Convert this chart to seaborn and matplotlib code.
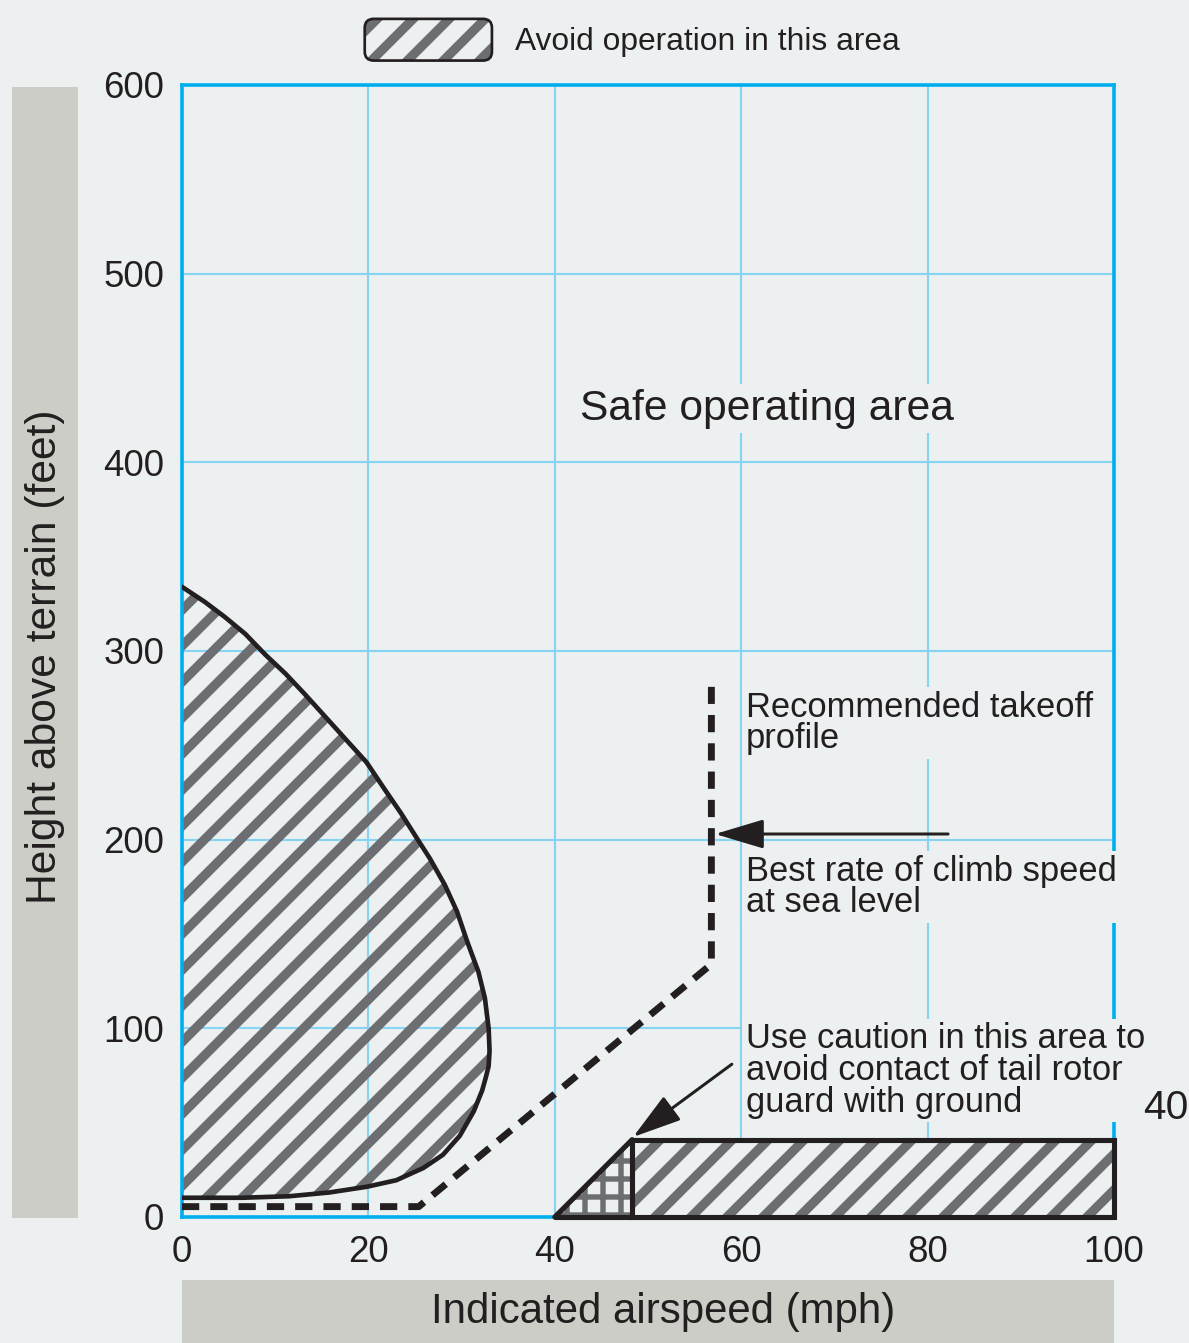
import matplotlib
matplotlib.use("Agg")
import matplotlib.pyplot as plt
from matplotlib.patches import Patch, FancyBboxPatch, Rectangle
from matplotlib.legend_handler import HandlerPatch
import seaborn as sns

# height-velocity diagram, values

# avoid area near the hover (airspeed mph, height ft), traced from top to bottom
avoid_speed = [0, 2.45, 4.6, 6.8, 8.95, 11.1, 13.2, 15.4, 17.6, 19.8, 21.7, 23.5,
               25.3, 26.6, 28.2, 29.5, 30.6, 31.8, 32.5, 32.9, 33.0, 32.9, 32.6,
               32.2, 31.3, 29.8, 28.0, 25.9, 23.0, 19.8, 15.8, 11.5, 6.4, 0]
avoid_height = [334, 326, 318, 309, 298, 288, 277, 265, 253, 241, 227, 214,
                200, 190, 176, 162, 146, 130, 116, 100, 88, 80, 74,
                67, 56, 43, 33, 26, 19.5, 16, 13, 11, 10.2, 10.2]

# recommended takeoff profile
takeoff_speed = [0, 25.4, 56.8, 56.8]
takeoff_height = [5.5, 5.5, 134, 281]

# tail rotor caution wedge and the high speed low level box
caution_speed = [40, 48.3, 48.3]
caution_height = [0, 41, 0]
box_speed = [48.3, 100, 100, 48.3]
box_height = [0, 0, 41, 41]

x_ticks = [0, 20, 40, 60, 80, 100]
y_ticks = [0, 100, 200, 300, 400, 500, 600]

# colours
BG = "#ecf0f1"
BOXGRAY = "#cdcdc8"
INK = "#231f20"
HATCH = "#6d6e71"
SPINE = "#00aeef"
GRID = "#86d3f2"

W, H, DPI = 1189, 1343, 216

sns.set_theme(style="whitegrid")
plt.rcParams["font.family"] = ["Liberation Sans", "DejaVu Sans"]
plt.rcParams["hatch.linewidth"] = 3.1
plt.rcParams["text.color"] = INK

fig = plt.figure(figsize=(W / DPI, H / DPI), dpi=DPI, facecolor=BG)
ax = fig.add_axes([182 / W, 1 - 1217 / H, 932 / W, 1132 / H])
ax.set_facecolor(BG)

# gray boxes behind the axis titles
fig.add_artist(Rectangle((12 / W, 1 - 1218 / H), 66 / W, 1131 / H,
                         transform=fig.transFigure, fc=BOXGRAY, ec="none", zorder=0))
fig.add_artist(Rectangle((182 / W, 0), 932 / W, 63 / H,
                         transform=fig.transFigure, fc=BOXGRAY, ec="none", zorder=0))

# avoid area at low speed
ax.fill(avoid_speed, avoid_height, facecolor="none", edgecolor=HATCH,
        hatch="//", lw=0, zorder=1)
sns.lineplot(x=avoid_speed, y=avoid_height, sort=False, estimator=None,
             color=INK, lw=1.55, ax=ax, zorder=3)

# caution wedge (cross hatched) and low level box (striped)
plt.rcParams["hatch.linewidth"] = 1.8
ax.fill(caution_speed, caution_height, facecolor=BG, edgecolor=HATCH,
        hatch="++", lw=0, zorder=1.5)
plt.rcParams["hatch.linewidth"] = 3.1
ax.fill(box_speed, box_height, facecolor=BG, edgecolor=HATCH,
        hatch="//", lw=0, zorder=1.5)
ax.fill(box_speed, box_height, facecolor="none", edgecolor=INK, lw=1.7,
        zorder=4, clip_on=False)
ax.plot(caution_speed[:2], caution_height[:2], color=INK, lw=1.7, zorder=4,
        clip_on=False)
ax.plot([caution_speed[0], box_speed[0]], [0, 0], color=INK, lw=1.7, zorder=4,
        clip_on=False)

# takeoff profile
sns.lineplot(x=takeoff_speed, y=takeoff_height, sort=False, estimator=None,
             color=INK, lw=2.3, linestyle=(0, (2.5, 1.6)), ax=ax, zorder=4)

ax.set_xlim(0, 100)
ax.set_ylim(0, 600)
ax.set_xticks(x_ticks)
ax.set_yticks(y_ticks)
ax.tick_params(length=0, labelsize=12.2, colors=INK)
ax.tick_params(axis="x", pad=6)
ax.tick_params(axis="y", pad=6)
ax.grid(True, color=GRID, lw=0.7)
ax.set_axisbelow(True)
for sp in ax.spines.values():
    sp.set_color(SPINE)
    sp.set_linewidth(1.2)
    sp.set_visible(True)

ax.set_xlabel("Indicated airspeed (mph)", fontsize=14, color=INK)
ax.xaxis.set_label_coords(0.516, -0.084)
ax.xaxis.label.set_va("center")
ax.set_ylabel("Height above terrain (feet)", fontsize=14.2, color=INK)
ax.yaxis.set_label_coords(-0.147, 0.495)
ax.yaxis.label.set_va("center")

box = dict(boxstyle="square,pad=0.1", fc=BG, ec="none")
ax.text(42.7, 428.5, "Safe operating area", fontsize=14.2, va="center",
        ha="left", bbox=box, zorder=6)
ax.text(60.5, 279, "Recommended takeoff\nprofile", fontsize=11.5, va="top",
        ha="left", linespacing=0.95, bbox=box, zorder=6)
ax.text(60.5, 192, "Best rate of climb speed\nat sea level", fontsize=11.5,
        va="top", ha="left", linespacing=0.95, bbox=box, zorder=6, clip_on=False)
ax.text(60.5, 103.3, "Use caution in this area to\navoid contact of tail rotor\nguard with ground",
        fontsize=11.5, va="top", ha="left", linespacing=0.95, bbox=box, zorder=6,
        clip_on=False)
ax.text(103.1, 58, "40", fontsize=13.6, va="center", ha="left", clip_on=False,
        zorder=8)

arrow = dict(arrowstyle="-|>,head_length=0.7,head_width=0.21", color=INK,
             lw=1.0, mutation_scale=20, shrinkA=0, shrinkB=0)
ax.annotate("", xy=(57.2, 203), xytext=(82.2, 203), arrowprops=arrow, zorder=7)
ax.annotate("", xy=(48.4, 42.4), xytext=(59.0, 81), arrowprops=arrow, zorder=7)


# legend with a rounded, hatched key
def rounded(legend, orig_handle, xdescent, ydescent, width, height, fontsize):
    return FancyBboxPatch((-xdescent, -ydescent), width, height,
                          boxstyle="round,pad=0,rounding_size=3")


key_hatch = Patch(facecolor="none", edgecolor=HATCH, hatch="//", lw=0)
key_edge = Patch(facecolor="none", edgecolor=INK, lw=0.9)
ax.legend(handles=[(key_hatch, key_edge)], labels=["Avoid operation in this area"],
          handler_map={key_hatch: HandlerPatch(patch_func=rounded),
                       key_edge: HandlerPatch(patch_func=rounded)},
          loc="center", bbox_to_anchor=(0.483, 1.04), frameon=False,
          fontsize=10.6, handlelength=4.0, handleheight=1.64,
          handletextpad=0.72, borderpad=0)

fig.savefig("out.png", dpi=DPI, facecolor=BG)
